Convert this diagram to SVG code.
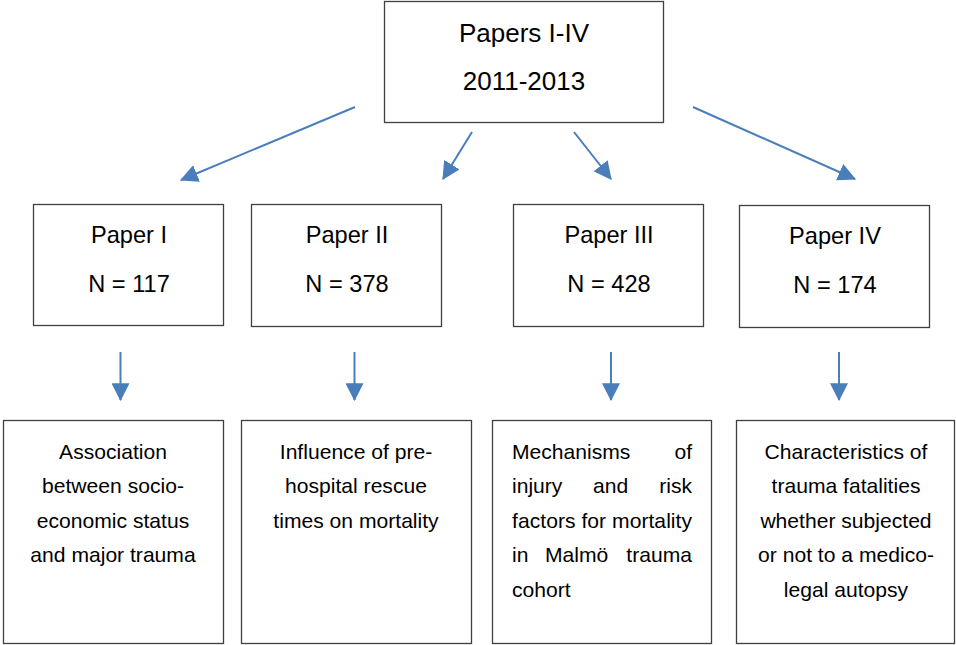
<svg xmlns="http://www.w3.org/2000/svg" width="956" height="645" viewBox="0 0 956 645">
<defs>
<style>
.box{fill:#fff;stroke:#404040;stroke-width:1.3}
.t{font-family:"Liberation Sans",Arial,sans-serif;fill:#000;text-anchor:middle}
.big{font-size:26px}
.mid{font-size:23.6px}
.sm{font-size:21.1px}
.l{text-anchor:start}
.r{text-anchor:end}
.c{stroke:#4a7ebb;stroke-width:2;fill:none;marker-end:url(#ah)}
</style>
<marker id="ah" markerUnits="userSpaceOnUse" markerWidth="18" markerHeight="18" refX="15" refY="8" orient="auto" viewBox="0 0 16 16">
<path d="M0,0 L16,8 L0,16 z" fill="#4a7ebb"/>
</marker>
</defs>
<g id="connectors">
<line class="c" x1="355" y1="107" x2="181" y2="180"/>
<line class="c" x1="472" y1="132" x2="443" y2="179"/>
<line class="c" x1="574" y1="132" x2="611" y2="179"/>
<line class="c" x1="693" y1="107" x2="855" y2="179"/>
<line class="c" x1="120.5" y1="352" x2="120.5" y2="400"/>
<line class="c" x1="354.5" y1="352" x2="354.5" y2="400"/>
<line class="c" x1="611" y1="352" x2="611" y2="400"/>
<line class="c" x1="839" y1="352" x2="839" y2="400"/>
</g>
<g id="top">
<rect class="box" x="384.5" y="1.5" width="279" height="121"/>
<text class="t big" x="524" y="41.5">Papers I-IV</text>
<text class="t big" x="524" y="90">2011-2013</text>
</g>
<g id="p1">
<rect class="box" x="33.5" y="204.5" width="190" height="121"/>
<text class="t mid" x="129" y="242.5">Paper I</text>
<text class="t mid" x="129" y="292">N = 117</text>
</g>
<g id="p2">
<rect class="box" x="251.5" y="204.5" width="190" height="122"/>
<text class="t mid" x="347" y="242.5">Paper II</text>
<text class="t mid" x="347" y="292">N = 378</text>
</g>
<g id="p3">
<rect class="box" x="513.5" y="204.5" width="190" height="122"/>
<text class="t mid" x="609" y="242.5">Paper III</text>
<text class="t mid" x="609" y="292">N = 428</text>
</g>
<g id="p4">
<rect class="box" x="739.5" y="205.5" width="190" height="122"/>
<text class="t mid" x="835" y="243.5">Paper IV</text>
<text class="t mid" x="835" y="293">N = 174</text>
</g>
<g id="d1">
<rect class="box" x="3.5" y="420.5" width="220" height="223"/>
<text class="t sm" x="113" y="458.5">Association</text>
<text class="t sm" x="113" y="493">between socio-</text>
<text class="t sm" x="113" y="527.5">economic status</text>
<text class="t sm" x="113" y="562">and major trauma</text>
</g>
<g id="d2">
<rect class="box" x="241.5" y="420.5" width="230" height="223"/>
<text class="t sm" x="356" y="458.5">Influence of pre-</text>
<text class="t sm" x="356" y="493">hospital rescue</text>
<text class="t sm" x="356" y="527.5">times on mortality</text>
</g>
<g id="d3">
<rect class="box" x="492.5" y="420.5" width="219" height="223"/>
<text class="t sm l" x="512" y="458.5">Mechanisms</text>
<text class="t sm r" x="692" y="458.5">of</text>
<text class="t sm l" x="512" y="493">injury</text>
<text class="t sm l" x="593" y="493">and</text>
<text class="t sm r" x="692" y="493">risk</text>
<text class="t sm l" x="512" y="527.5" textLength="180" lengthAdjust="spacing">factors for mortality</text>
<text class="t sm l" x="512" y="562">in</text>
<text class="t sm l" x="545" y="562">Malmö</text>
<text class="t sm r" x="692" y="562">trauma</text>
<text class="t sm l" x="512" y="596.5">cohort</text>
</g>
<g id="d4">
<rect class="box" x="736.5" y="420.5" width="218" height="223"/>
<text class="t sm" x="846" y="458.5">Characteristics of</text>
<text class="t sm" x="846" y="493">trauma fatalities</text>
<text class="t sm" x="846" y="527.5">whether subjected</text>
<text class="t sm" x="846" y="562">or not to a medico-</text>
<text class="t sm" x="846" y="596.5">legal autopsy</text>
</g>
</svg>
